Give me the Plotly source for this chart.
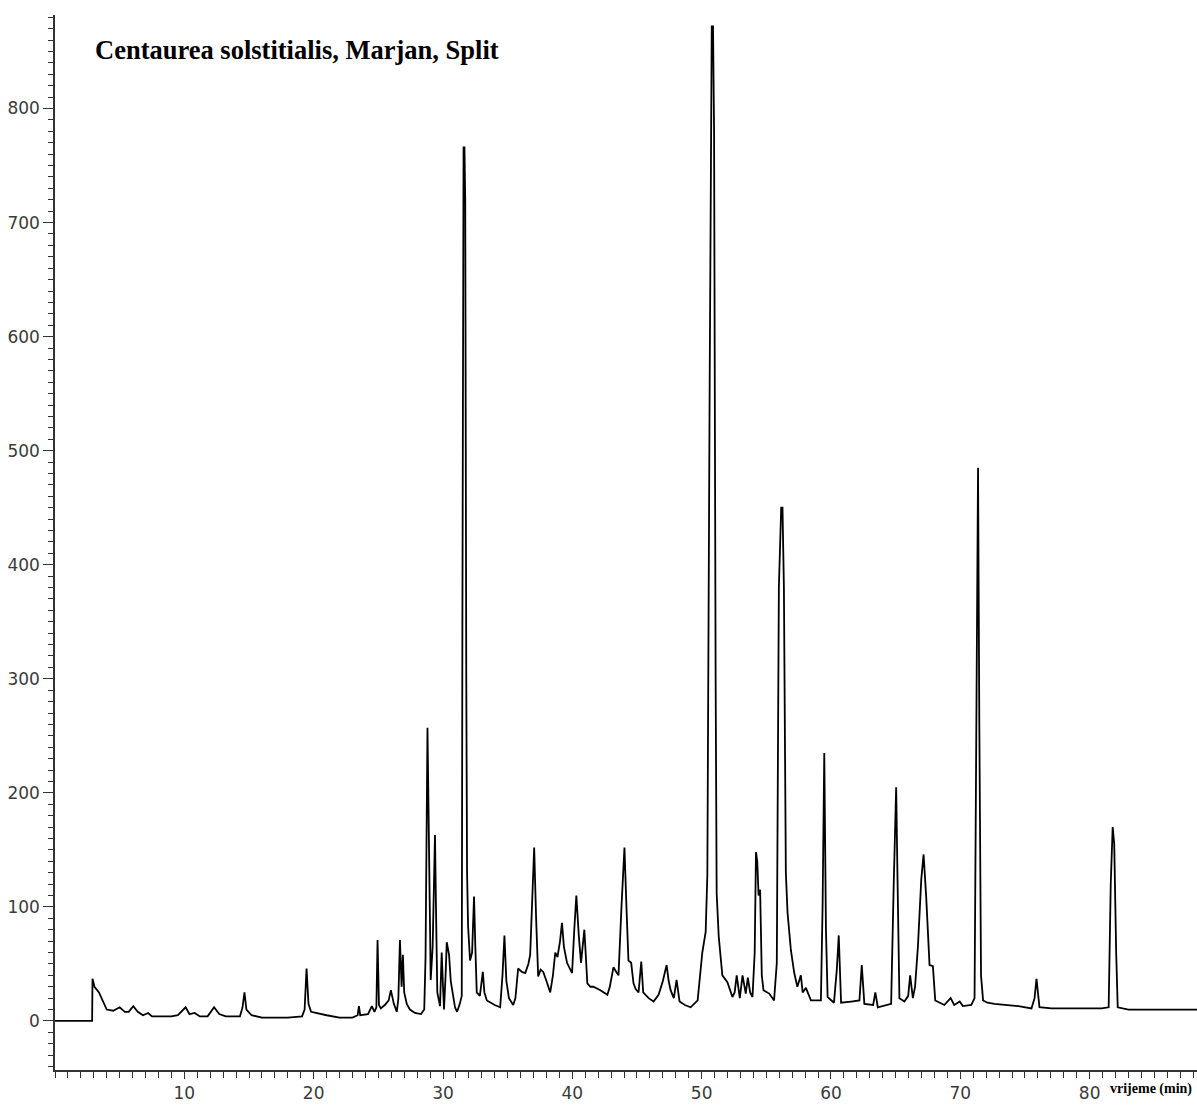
import plotly.graph_objects as go

# Retention time (min) and detector response
time_min = [
    0, 2.87, 2.9, 3.05, 3.4, 3.7, 4.0, 4.5, 5.0, 5.4, 5.7, 6.05, 6.4, 6.8, 7.2, 7.5,
    8.0, 9.0, 9.5, 10.1, 10.4, 10.8, 11.2, 11.8, 12.3, 12.7, 13.2, 14.3, 14.5, 14.65,
    14.8, 15.2, 16.0, 17.0, 18.0, 19.1, 19.3, 19.45, 19.6, 19.8, 20.5, 21.0, 22.0,
    23.0, 23.4, 23.5, 23.6, 24.2, 24.5, 24.7, 24.85, 24.94, 25.05, 25.19,
    25.5, 25.8, 25.97, 26.2, 26.43, 26.55, 26.67, 26.8, 26.9, 27.0, 27.2, 27.44, 27.83,
    28.3, 28.55, 28.65, 28.8, 28.92, 29.05, 29.2, 29.3, 29.38, 29.47, 29.56, 29.77,
    29.9, 30.0, 30.08, 30.2, 30.29, 30.47, 30.6, 30.93, 31.09, 31.3, 31.45, 31.5,
    31.59, 31.66, 31.72, 31.8, 31.86, 31.94, 32.09, 32.25, 32.4, 32.5, 32.61, 32.85,
    33.08, 33.2, 33.39, 34.0, 34.42, 34.6, 34.75, 34.9, 35.1, 35.43, 35.6, 35.81,
    36.1, 36.36, 36.6, 36.74, 36.9, 37.05, 37.2, 37.36, 37.55, 37.75, 38.0, 38.29,
    38.5, 38.68, 38.85, 39.05, 39.2, 39.35, 39.59, 39.8, 39.98, 40.15, 40.31, 40.5,
    40.67, 40.93, 41.16, 41.4, 41.63, 42.17, 42.71, 42.9, 43.18, 43.4, 43.57, 43.8,
    44.03, 44.2, 44.34, 44.55, 44.73, 44.9, 45.12, 45.33, 45.48, 45.9, 46.28, 46.67,
    47.0, 47.29, 47.45, 47.6, 47.85, 48.06, 48.29, 48.7, 49.15, 49.69, 50.05, 50.31,
    50.44, 50.62, 50.78, 50.88, 50.96, 51.08, 51.16, 51.32, 51.6, 51.99, 52.38, 52.55,
    52.71, 52.95, 53.16, 53.41, 53.57, 53.75, 53.93, 54.1, 54.2, 54.3, 54.4, 54.52,
    54.65, 54.78, 55.22, 55.6, 55.81, 55.97, 56.15, 56.25, 56.36, 56.51, 56.64, 56.9,
    57.16, 57.4, 57.67, 57.81, 58.06, 58.45, 59.22, 59.35, 59.48, 59.61, 59.74, 60.23,
    60.45, 60.6, 60.7, 60.78, 61.55, 62.2, 62.38, 62.5, 62.58, 63.26, 63.43, 63.62,
    64.65, 64.85, 65.04, 65.15, 65.29, 65.68, 65.97, 66.12, 66.33, 66.5, 66.72, 66.98,
    67.16, 67.36, 67.5, 67.62, 67.88, 68.06, 68.76, 69.25, 69.53, 69.95, 70.2, 70.85,
    71.1, 71.24, 71.37, 71.47, 71.6, 71.76, 72.1, 72.64, 73.41, 74.5, 75.5, 75.74,
    75.89, 76.05, 76.12, 77.05, 79.0, 80.93, 81.47, 81.63, 81.78, 81.9, 82.05, 82.17,
    83.0, 85.58, 88.45,
]
response = [
    0, 0, 37, 30, 25, 18, 10, 9, 12, 8, 8, 13, 8, 5, 7, 4,
    4, 4, 5, 12, 6, 7, 4, 4, 12, 6, 4, 4, 12, 25,
    10, 5, 3, 3, 3, 4, 10, 46, 15, 8, 6, 5, 3,
    3, 5, 13, 5, 6, 13, 8, 12, 71, 14, 11,
    14, 18, 27, 15, 8, 20, 71, 30, 58, 25, 15, 10, 7,
    6, 10, 56, 257, 120, 36, 65, 140, 163, 90, 25, 13,
    60, 30, 10, 40, 69, 58, 35, 12, 8, 15, 22, 350,
    766, 766, 720, 300, 131, 83, 53, 60, 109, 65, 25, 22,
    43, 25, 18, 14, 12, 40, 75, 35, 20, 14, 20, 46,
    43, 42, 50, 58, 110, 152, 90, 39, 45, 43, 35, 25,
    40, 60, 56, 70, 86, 65, 51, 46, 42, 80, 110, 75,
    51, 80, 33, 30, 30, 27, 23, 30, 47, 43, 40, 100,
    152, 95, 53, 51, 33, 28, 25, 52, 25, 20, 17, 23,
    35, 49, 35, 27, 20, 36, 17, 14, 12, 18, 60, 78,
    128, 560, 872, 872, 780, 300, 112, 74, 40, 34, 21, 25,
    40, 20, 40, 24, 38, 25, 21, 60, 148, 140, 110, 115,
    40, 27, 24, 18, 51, 380, 450, 450, 380, 130, 95, 62,
    42, 30, 40, 25, 29, 18, 18, 100, 235, 80, 21, 16,
    45, 75, 40, 16, 17, 18, 49, 30, 15, 14, 25, 12,
    15, 120, 205, 120, 20, 17, 22, 40, 20, 30, 65, 124,
    146, 109, 77, 49, 48, 18, 14, 20, 14, 17, 13, 14,
    20, 260, 485, 260, 40, 18, 16, 15, 14, 13, 11, 20,
    37, 20, 12, 11, 11, 11, 12, 120, 170, 155, 60, 12,
    10, 10, 10,
]

x_tick_vals = [10, 20, 30, 40, 50, 60, 70, 80]
y_tick_vals = [0, 100, 200, 300, 400, 500, 600, 700, 800]
title_text = "Centaurea solstitialis, Marjan, Split"
x_label = "vrijeme (min)"

W, H = 1197, 1106
ML, MR, MT, MB = 55, 0, 15, 36

fig = go.Figure()
fig.add_trace(go.Scatter(
    x=time_min, y=response, mode="lines",
    line=dict(color="#000000", width=1.8),
    hoverinfo="skip", showlegend=False,
))

tick_font = dict(family="DejaVu Sans, sans-serif", size=17, color="#3a3a3a")

fig.update_layout(
    width=W, height=H,
    margin=dict(l=ML, r=MR, t=MT, b=MB, pad=0),
    paper_bgcolor="white", plot_bgcolor="white",
    xaxis=dict(
        range=[0, 88.3], tickvals=x_tick_vals, ticks="outside", ticklen=7,
        tickwidth=1.3, tickcolor="#333", showline=True, linecolor="#333", linewidth=1.5,
        showgrid=False, zeroline=False, tickfont=tick_font, ticklabelstandoff=0,
        minor=dict(dtick=1, tick0=0, ticks="outside", ticklen=6, tickwidth=1.2, tickcolor="#333", showgrid=False),
    ),
    yaxis=dict(
        range=[-43, 882], tickvals=y_tick_vals, ticks="outside", ticklen=10,
        tickwidth=1.3, tickcolor="#333", showline=True, linecolor="#333", linewidth=1.5,
        showgrid=False, zeroline=False, tickfont=tick_font, ticklabelstandoff=0,
        minor=dict(dtick=10, tick0=0, ticks="outside", ticklen=5, tickwidth=1.2, tickcolor="#333", showgrid=False),
    ),
    annotations=[
        dict(text="<b>" + title_text + "</b>", xref="paper", yref="paper",
             x=(93 - ML) / (W - ML - MR), y=1 - (50 - MT) / (H - MT - MB),
             xanchor="left", yanchor="middle", showarrow=False,
             font=dict(family="Liberation Serif, Times New Roman, serif", size=26.5, color="#000")),
        dict(text="<b>" + x_label + "</b>", xref="paper", yref="paper",
             x=(1108 - ML) / (W - ML - MR), y=-(1089 - (H - MB)) / (H - MT - MB),
             xanchor="left", yanchor="middle", showarrow=False,
             font=dict(family="Liberation Serif, Times New Roman, serif", size=14, color="#000")),
    ],
)

fig.write_html("out.html", config={"displayModeBar": False},
               post_script="document.body.style.margin='0';document.body.style.overflow='hidden';")
